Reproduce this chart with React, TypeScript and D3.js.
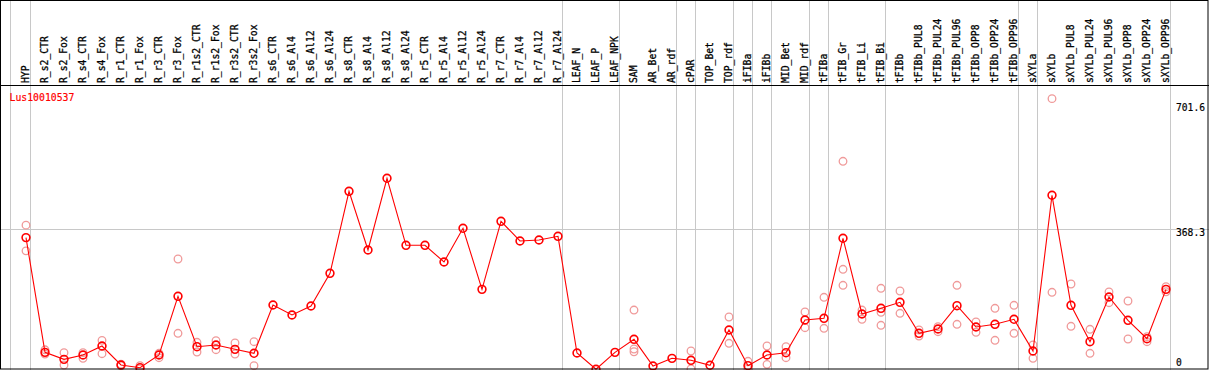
import React from "react";
import * as d3 from "d3";

const categories = [
  "HYP", "R_s2_CTR", "R_s2_Fox", "R_s4_CTR", "R_s4_Fox", "R_r1_CTR", "R_r1_Fox", "R_r3_CTR", "R_r3_Fox",
  "R_r1s2_CTR", "R_r1s2_Fox", "R_r3s2_CTR", "R_r3s2_Fox", "R_s6_CTR", "R_s6_Al4", "R_s6_Al12", "R_s6_Al24",
  "R_s8_CTR", "R_s8_Al4", "R_s8_Al12", "R_s8_Al24", "R_r5_CTR", "R_r5_Al4", "R_r5_Al12", "R_r5_Al24",
  "R_r7_CTR", "R_r7_Al4", "R_r7_Al12", "R_r7_Al24", "LEAF_N", "LEAF_P", "LEAF_NPK", "SAM", "AR_Bet", "AR_rdf",
  "cPAR", "TOP_Bet", "TOP_rdf", "iFIBa", "iFIBb", "MID_Bet", "MID_rdf", "tFIBa", "tFIB_Gr", "tFIB_Li", "tFIB_Bi",
  "tFIBb", "tFIBb_PUL8", "tFIBb_PUL24", "tFIBb_PUL96", "tFIBb_OPP8", "tFIBb_OPP24", "tFIBb_OPP96",
  "sXYLa", "sXYLb", "sXYLb_PUL8", "sXYLb_PUL24", "sXYLb_PUL96", "sXYLb_OPP8", "sXYLb_OPP24", "sXYLb_OPP96",
];

const meanValues = [
  345, 50.5, 32.5, 43.6, 66.7, 18, 11, 43.6, 194.3,
  65, 69.3, 58.2, 48, 172, 146.3, 169.4, 253.3,
  463.8, 313.2, 497.2, 325.2, 325.2, 282.4, 368.9, 212.2,
  386.8, 336.3, 338.8, 348.3, 48.8, 7, 50.5, 83.9, 15.4, 35.1,
  30, 17.2, 107.8, 16.2, 43.6, 49.6, 133.5, 137.8, 343.2, 148.9, 163.5,
  178.9, 99.3, 110.4, 170.2, 115.5, 122.4, 135.3,
  53.9, 453.6, 171.2, 77.8, 192.5, 132.7, 85.5, 212.2,
];

const replicateValues: number[][] = [
  [377, 311], [57, 46], [49.6, 18], [49.6, 35.1], [81.3, 47], [20, 16], [16, 7.7], [48, 36.7], [290, 99.3],
  [76.2, 51.3], [80.4, 57.2], [74.4, 46.2], [77.8, 16.2], [], [], [], [],
  [], [], [], [], [], [], [], [],
  [], [], [], [], [], [], [], [159, 59, 52], [], [],
  [53.9, 7.7], [], [141.2, 73.7], [27.5, 8], [66.7, 19.7], [65, 36.7], [154, 113.7], [191.7, 112.2], [540.8, 263.6, 222.6], [159, 135.3], [214.8, 153.2, 119.9],
  [207.9, 150.7], [107.8, 92.4], [116.3, 103.5], [222.6, 122.4], [128.4, 101.9], [163.5, 81.4], [171.2, 99.3],
  [69.3, 35.1], [701.6, 204.6], [225.9, 117.3], [109.6, 48], [205.4, 177.9], [182.3, 84.7], [90.6, 77.8], [219, 206],
];

const separatorAfter = [0, 28, 31, 34, 35, 37, 38, 39, 41, 42, 45, 52, 53, 60];
const axisLabels = ["701.6", "368.3", "0"];
const title = "Lus10010537";

const W = 1209;
const H = 370;
const FONT = "'DejaVu Sans Mono', 'Liberation Mono', monospace";
const CW = 5.85;

export default function App() {
  const x = d3.scalePoint<string>().domain(categories).range([26, 1166]).padding(0);
  const maxV = d3.max(replicateValues.flat().concat(meanValues)) as number;
  const y = d3.scaleLinear().domain([0, maxV * 1.05]).range([372, 85]);
  const line = d3
    .line<number>()
    .x((_, i) => x(categories[i]) as number)
    .y((d) => y(d));

  const midV = (maxV * 1.05) / 2;
  const labelY = [111, 236, 366];

  return (
    <svg
      width={W}
      height={H}
      style={{ position: "absolute", left: 0, top: 0, background: "#fff" }}
    >
      <rect x={0} y={0} width={W} height={H} fill="#fff" />
      {/* vertical separators */}
      <line x1={(x(categories[0]) as number) - 15.5} x2={(x(categories[0]) as number) - 15.5} y1={0} y2={H} stroke="#c8c8c8" strokeWidth={1} />
      {separatorAfter.map((i) => {
        const xx = Math.round((x(categories[i]) as number) + 4) + 0.5;
        return <line key={i} x1={xx} x2={xx} y1={0} y2={H} stroke="#c8c8c8" strokeWidth={1} />;
      })}
      {/* mid gridline */}
      <line x1={0} x2={W} y1={Math.round(y(midV)) + 0.5} y2={Math.round(y(midV)) + 0.5} stroke="#c8c8c8" strokeWidth={1} />

      {/* header labels */}
      {categories.map((c) => {
        const xx = (x(c) as number) + 3;
        return (
          <text
            key={c}
            transform={`translate(${xx},83) rotate(-90)`}
            fontFamily={FONT}
            fontSize={11}
            textLength={c.length * CW}
            lengthAdjust="spacingAndGlyphs"
            fill="#000"
            stroke="#000"
            strokeWidth={0.3}
          >
            {c}
          </text>
        );
      })}

      {/* title */}
      <text x={9.5} y={101} fontFamily={FONT} fontSize={11} fill="#ff0000" stroke="#ff0000" strokeWidth={0.2} textLength={title.length * 5.9} lengthAdjust="spacingAndGlyphs">
        {title}
      </text>

      {/* replicates */}
      {replicateValues.map((reps, i) =>
        reps.map((v, j) => (
          <circle
            key={`r${i}-${j}`}
            cx={x(categories[i]) as number}
            cy={y(v)}
            r={3.8}
            fill="none"
            stroke="#f09a9a"
            strokeWidth={1.3}
          />
        ))
      )}

      {/* mean line */}
      <path d={line(meanValues) as string} fill="none" stroke="#ff0000" strokeWidth={1.1} />
      {meanValues.map((v, i) => (
        <circle
          key={`m${i}`}
          cx={x(categories[i]) as number}
          cy={y(v)}
          r={3.9}
          fill="none"
          stroke="#ff0000"
          strokeWidth={1.6}
        />
      ))}

      {/* axis labels */}
      {axisLabels.map((t, i) => (
        <text
          key={t}
          x={1176}
          y={labelY[i]}
          fontFamily={FONT}
          fontSize={11}
          fill="#000"
          stroke="#000"
          strokeWidth={0.2}
          textLength={t.length * 5.8}
          lengthAdjust="spacingAndGlyphs"
        >
          {t}
        </text>
      ))}

      {/* frame */}
      <line x1={0} x2={W} y1={85.5} y2={85.5} stroke="#000" strokeWidth={1} />
      <rect x={0.5} y={0.5} width={W - 1.5} height={H - 1.5} fill="none" stroke="#000" strokeWidth={1} />
    </svg>
  );
}
